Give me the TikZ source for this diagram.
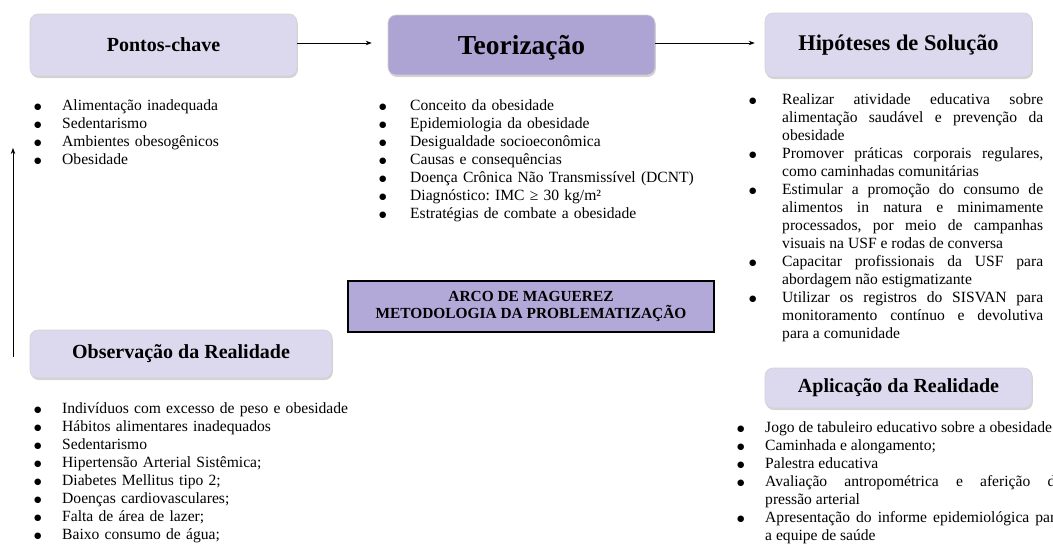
\documentclass[tikz,border=0pt]{standalone}
\usepackage{fontspec}
\setmainfont{Liberation Serif}
\newfontfamily\bulletfont{DejaVu Sans}
\usetikzlibrary{arrows.meta,shadows}
\definecolor{boxlight}{HTML}{DCD9EE}
\definecolor{boxdark}{HTML}{AEA4D4}
\definecolor{arcofill}{HTML}{B3A9D8}
\frenchspacing
\newcommand\blt{\raisebox{0.9pt}{\fontsize{8.5}{8.5}\bulletfont ●}}
\newcommand\bitem[2][28pt]{\par\noindent\strut\llap{\makebox[#1][l]{\hspace{-0.3pt}\blt}}#2\strut}
\tikzset{
  stagebox/.style={rounded corners=8pt, fill=boxlight, draw=gray!35, line width=0.6pt,
    drop shadow={opacity=0.35, shadow xshift=0.8pt, shadow yshift=-2pt},
    inner sep=0pt, align=center},
  listtext/.style={anchor=north west, inner sep=0pt, font=\fontsize{15.6}{18}\selectfont},
  flowarrow/.style={-{Stealth[length=6pt,width=4.5pt]}, line width=0.7pt, black}
}
\begin{document}
\begin{tikzpicture}[x=1pt,y=-1pt]
\useasboundingbox (0,0) rectangle (1053,552);
% stage boxes
\node[stagebox, minimum width=267pt, minimum height=62pt, font=\fontsize{20}{24}\selectfont\bfseries] (pontos) at (163.5,45) {Pontos-chave};
\node[stagebox, fill=boxdark, minimum width=267pt, minimum height=60pt, text depth=0pt, font=\fontsize{27.5}{32}\selectfont\bfseries] (teor) at (521.5,45) {Teorização};
\node[stagebox, minimum width=267pt, minimum height=64pt, font=\fontsize{22.4}{27}\selectfont\bfseries] (hip) at (898.5,45) {Hipóteses de Solução};
\node[stagebox, minimum width=302pt, minimum height=48pt, font=\fontsize{20}{24}\selectfont\bfseries] (obs) at (181,354) {Observação da Realidade};
\node[stagebox, minimum width=267pt, minimum height=40pt, font=\fontsize{20}{24}\selectfont\bfseries] (aplic) at (898.5,388) {Aplicação da Realidade};
\node[fill=arcofill, draw=black, line width=1.8pt, minimum width=366pt, minimum height=51pt, inner sep=0pt, align=center, font=\fontsize{15.4}{17.5}\selectfont\bfseries] (arco) at (531,306.5) {ARCO DE MAGUEREZ\\METODOLOGIA DA PROBLEMATIZAÇÃO};

% lists
\node[listtext, text width=300pt, align=left] (lpontos) at (62,91.9) {%
\bitem[27.7pt]{Alimentação inadequada}
\bitem[27.7pt]{Sedentarismo}
\bitem[27.7pt]{Ambientes obesogênicos}
\bitem[27.7pt]{Obesidade}};

\node[listtext, text width=320pt, align=left] (lteor) at (410,91.9) {%
\bitem[30.7pt]{Conceito da obesidade}
\bitem[30.7pt]{Epidemiologia da obesidade}
\bitem[30.7pt]{Desigualdade socioeconômica}
\bitem[30.7pt]{Causas e consequências}
\bitem[30.7pt]{Doença Crônica Não Transmissível (DCNT)}
\bitem[30.7pt]{Diagnóstico: IMC ≥ 30 kg/m²}
\bitem[30.7pt]{Estratégias de combate a obesidade}};

\node[listtext, text width=261pt, align=justify] (lhip) at (782,86.4) {%
\bitem[32.7pt]{Realizar atividade educativa sobre\linebreak alimentação saudável e prevenção da\linebreak obesidade}
\bitem[32.7pt]{Promover práticas corporais regulares,\linebreak como caminhadas comunitárias}
\bitem[32.7pt]{Estimular a promoção do consumo de\linebreak alimentos in natura e minimamente\linebreak processados, por meio de campanhas\linebreak visuais na USF e rodas de conversa}
\bitem[32.7pt]{Capacitar profissionais da USF para\linebreak abordagem não estigmatizante}
\bitem[32.7pt]{Utilizar os registros do SISVAN para\linebreak monitoramento contínuo e devolutiva\linebreak para a comunidade}};

\node[listtext, text width=320pt, align=left] (lobs) at (62,395.4) {%
\bitem[27.7pt]{Indivíduos com excesso de peso e obesidade}
\bitem[27.7pt]{Hábitos alimentares inadequados}
\bitem[27.7pt]{Sedentarismo}
\bitem[27.7pt]{Hipertensão Arterial Sistêmica;}
\bitem[27.7pt]{Diabetes Mellitus tipo 2;}
\bitem[27.7pt]{Doenças cardiovasculares;}
\bitem[27.7pt]{Falta de área de lazer;}
\bitem[27.7pt]{Baixo consumo de água;}};

\node[listtext, text width=297pt, align=justify] (laplic) at (765,414.4) {%
\bitem[27.7pt]{Jogo de tabuleiro educativo sobre a obesidade}
\bitem[27.7pt]{Caminhada e alongamento;}
\bitem[27.7pt]{Palestra educativa}
\bitem[27.7pt]{Avaliação antropométrica e aferição da\linebreak pressão arterial}
\bitem[27.7pt]{Apresentação do informe epidemiológica para\linebreak a equipe de saúde}};

% connectors
\draw[flowarrow, shorten >=16pt] (pontos.east |- 0,43) -- (teor.west |- 0,43);
\draw[flowarrow, shorten >=10pt] (teor.east |- 0,43) -- (hip.west |- 0,43);
\coordinate (upstart) at (13,357);
\coordinate (upend) at (13,148);
\draw[flowarrow] (upstart) -- (upend);
\end{tikzpicture}
\end{document}
